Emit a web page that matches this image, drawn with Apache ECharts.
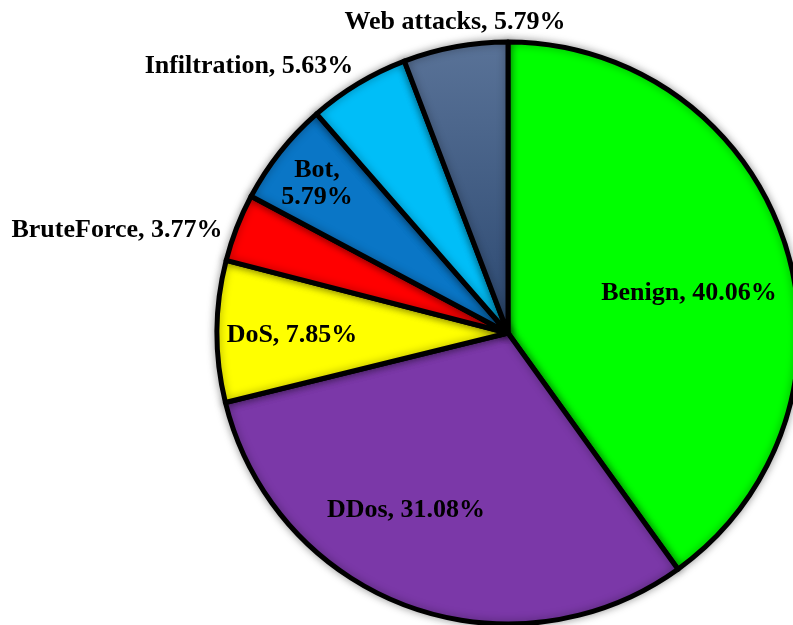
<!DOCTYPE html>
<html>
<head>
<meta charset="utf-8">
<script src="https://cdn.jsdelivr.net/npm/echarts@6/dist/echarts.min.js"></script>
<style>
  html, body { margin: 0; padding: 0; background: #fff; }
  #chart { width: 793px; height: 625px; }
</style>
</head>
<body>
<div id="chart"></div>
<script>
// Traffic class shares (%), clockwise from 12 o'clock
const categories = ['Benign', 'DDos', 'DoS', 'BruteForce', 'Bot', 'Infiltration', 'Web attacks'];
const shares = [40.06, 31.08, 7.85, 3.77, 5.79, 5.63, 5.79];

const sliceColors = {
  'Benign': '#00FF00',
  'DDos': '#7B38A8',
  'DoS': '#FFFF00',
  'BruteForce': '#FF0000',
  'Bot': '#0A76C6',
  'Infiltration': '#00BEF8',
  'Web attacks': new echarts.graphic.LinearGradient(0, 0, 0, 1, [
    { offset: 0, color: '#5A7398' },
    { offset: 1, color: '#2B4870' }
  ])
};

// Where each label sits (pixel centre of its text block)
const labelPos = {
  'Benign': [689, 293],
  'DDos': [406, 510],
  'DoS': [292, 335],
  'BruteForce': [117, 230],
  'Bot': [317, 184],
  'Infiltration': [249, 66],
  'Web attacks': [455, 22]
};

function labelText(name, value) {
  const pct = value.toFixed(2) + '%';
  return name === 'Bot' ? name + ',\n' + pct : name + ', ' + pct;
}

const chart = echarts.init(document.getElementById('chart'), null, { renderer: 'canvas' });

chart.setOption({
  animation: false,
  backgroundColor: '#ffffff',
  series: [{
    type: 'pie',
    center: [508, 333],
    radius: [0, 291],
    startAngle: 90,
    clockwise: true,
    avoidLabelOverlap: false,
    itemStyle: {
      borderColor: '#000',
      borderWidth: 5,
      shadowBlur: 8,
      shadowColor: 'rgba(0,0,0,0.35)'
    },
    label: {
      show: true,
      position: 'inside',
      color: '#000',
      fontFamily: '"Liberation Serif", "Times New Roman", serif',
      fontWeight: 'bold',
      fontSize: 26,
      lineHeight: 27,
      align: 'center',
      verticalAlign: 'middle',
      formatter: p => labelText(p.name, p.value)
    },
    labelLine: { show: false },
    labelLayout: p => {
      const pos = labelPos[categories[p.dataIndex]];
      return { x: pos[0], y: pos[1], align: 'center', verticalAlign: 'middle' };
    },
    emphasis: { disabled: true },
    data: categories.map((c, i) => ({
      name: c,
      value: shares[i],
      itemStyle: { color: sliceColors[c] }
    }))
  }]
});
</script>
</body>
</html>
